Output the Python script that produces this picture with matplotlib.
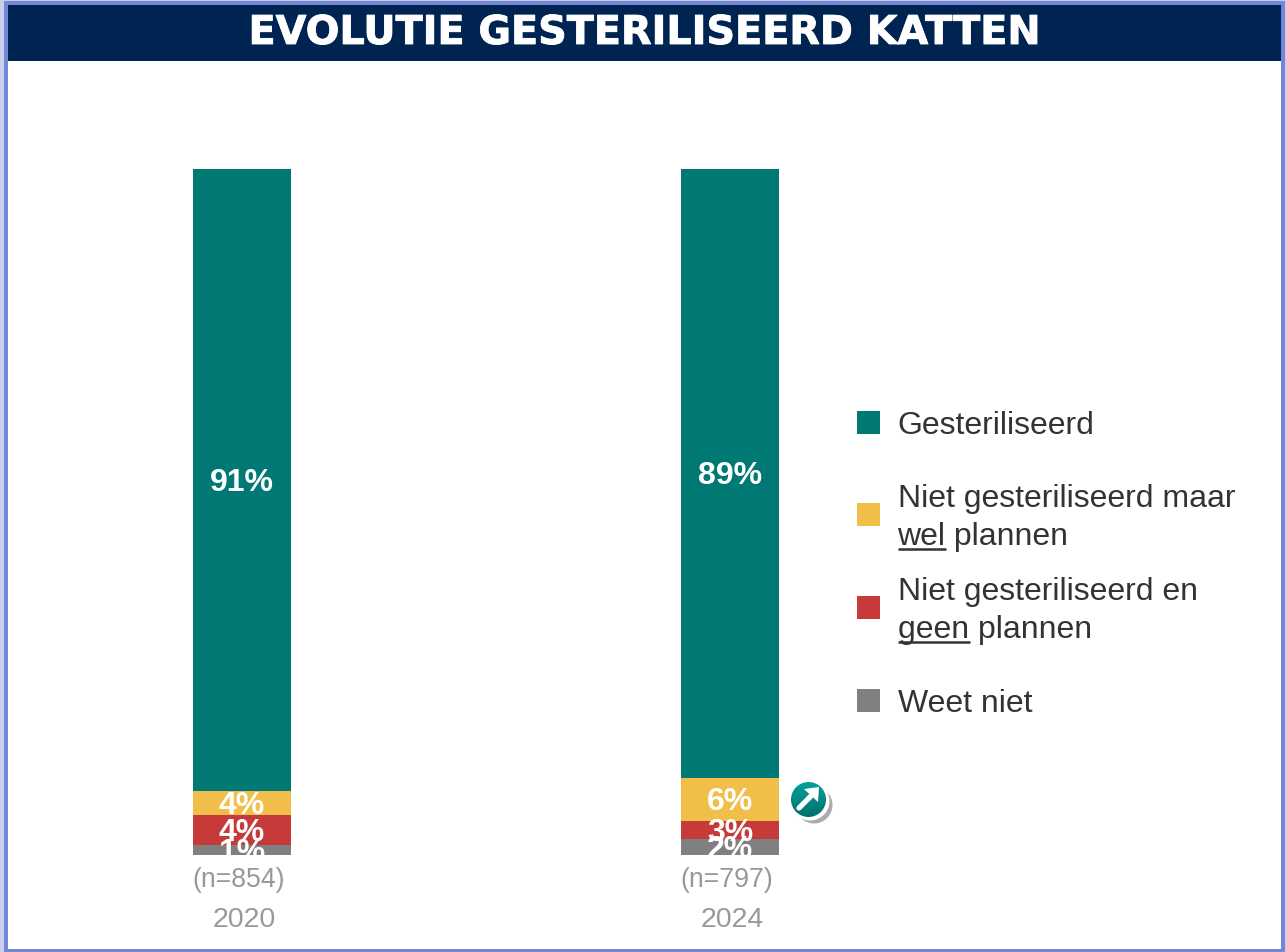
import numpy as np
import matplotlib
matplotlib.use('Agg')
import matplotlib.pyplot as plt
import matplotlib.patheffects as pe
from matplotlib.patches import Circle, Polygon, Rectangle
from matplotlib.colors import LinearSegmentedColormap

plt.rcParams['font.family'] = ['Liberation Sans', 'DejaVu Sans']

W, H = 1286, 953

# Data
years = ['2020', '2024']
sample_sizes = ['(n=854)', '(n=797)']
sterilised = [90.7, 88.8]
plan_yes = [3.5, 6.3]
plan_no = [4.4, 2.6]
dont_know = [1.4, 2.3]
label_sterilised = ['91%', '89%']
label_plan_yes = ['4%', '6%']
label_plan_no = ['4%', '3%']
label_dont_know = ['1%', '2%']

series = [sterilised, plan_yes, plan_no, dont_know]
series_labels = [label_sterilised, label_plan_yes, label_plan_no, label_dont_know]
colors = ['#007873', '#F2BE4A', '#C63A3A', '#808080']

fig = plt.figure(figsize=(W / 100, H / 100), dpi=100, facecolor='white')

# Overlay in pixel coordinates for the frame, header, legend and badge
px = fig.add_axes([0, 0, 1, 1], zorder=1)
px.set_xlim(0, W)
px.set_ylim(H - 1, -1)
px.axis('off')

px.add_patch(Rectangle((0, -1), W, H + 1, facecolor='#C9CFEA', edgecolor='none'))
px.add_patch(Rectangle((4, 1), W - 5, H, facecolor='#7486D6', edgecolor='none'))
px.add_patch(Rectangle((8, 5), W - 13, H - 9, facecolor='white', edgecolor='none'))
px.add_patch(Rectangle((8, 5), W - 13, 56, facecolor='#002452', edgecolor='none'))
px.text(645, 44, 'EVOLUTIE GESTERILISEERD KATTEN', color='white', fontsize=28.6,
        fontweight='bold', family='DejaVu Sans', ha='center', va='baseline',
        path_effects=[pe.withStroke(linewidth=0.6, foreground='white')])

# Stacked bars, clipped at the baseline as in the reference
left, right, top, bottom = 8, 840, 63, 856
ax = fig.add_axes([left / W, 1 - bottom / H, (right - left) / W, (bottom - top) / H],
                  zorder=2)
ax.patch.set_alpha(0)
ax.set_xlim((left - 242) / 488, (right - 242) / 488)
ax.set_ylim(0, (bottom - top) / 6.86)
ax.axis('off')

for i in range(len(years)):
    upper = 100.0
    for values, labels, color in zip(series, series_labels, colors):
        ax.bar(i, values[i], width=0.2, bottom=upper - values[i], color=color,
               linewidth=0)
        ax.text(i, upper - values[i] / 2 + 0.3, labels[i], color='white', fontsize=23,
                fontweight='bold', ha='center', va='center_baseline', clip_on=True)
        upper -= values[i]
    ax.annotate(sample_sizes[i], xy=(i, 0), xytext=(-3.5, -31.5),
                textcoords='offset pixels', color='#999999', fontsize=19.2,
                ha='center', va='baseline')
    ax.annotate(years[i], xy=(i, 0), xytext=(2, -71),
                textcoords='offset pixels', color='#999999', fontsize=20.5,
                ha='center', va='baseline')

# Legend
legend_y = [411, 503, 596, 689]
legend_text = [
    [('Gesteriliseerd', 433)],
    [('Niet gesteriliseerd maar', 506), ('wel plannen', 544)],
    [('Niet gesteriliseerd en', 599), ('geen plannen', 637)],
    [('Weet niet', 711)],
]
for y, lines, color in zip(legend_y, legend_text, colors):
    px.add_patch(Rectangle((856.5, y), 23.5, 23, facecolor=color, edgecolor='none'))
    for text, baseline in lines:
        px.text(897.5, baseline, text, color='#333333', fontsize=23, ha='left',
                va='baseline')
px.plot([898, 946], [549, 549], color='#333333', lw=1.8, solid_capstyle='butt')
px.plot([898, 970], [641.5, 641.5], color='#333333', lw=1.8, solid_capstyle='butt')

# Upward arrow badge
px.add_patch(Circle((814, 805), 18.5, facecolor='#ABABAB', edgecolor='none'))
px.add_patch(Circle((810, 801), 19.5, facecolor='white', edgecolor='none'))
teal_grad = LinearSegmentedColormap.from_list('teal', ['#00A39B', '#006F6B'])
badge = px.imshow(np.linspace(0, 1, 64).reshape(-1, 1), cmap=teal_grad, aspect='auto',
                  extent=(791, 826, 817, 782), zorder=3)
badge.set_clip_path(Circle((808.5, 799.5), 17.5, transform=px.transData))
px.set_xlim(0, W)
px.set_ylim(H - 1, -1)
px.plot([799, 813], [808, 794], color='white', lw=3.8, zorder=4, solid_capstyle='round')
px.add_patch(Polygon([(819, 787), (818, 802), (804, 789)], closed=True,
                     facecolor='white', edgecolor='none', zorder=4))

fig.savefig('out.png', dpi=100, facecolor='white')
